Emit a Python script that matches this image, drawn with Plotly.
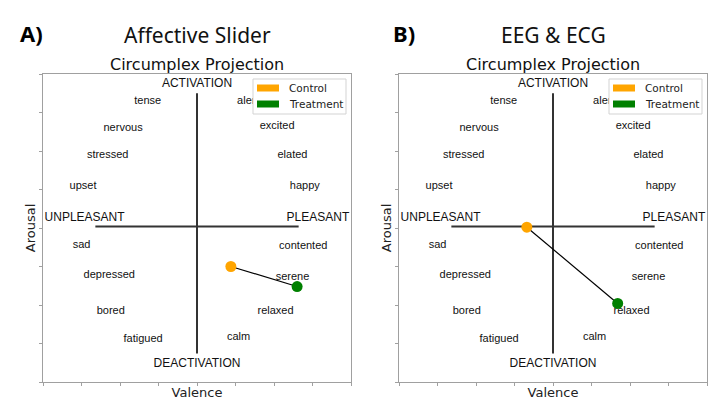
import plotly.graph_objects as go

# ---------------- data ----------------
word_labels = ["tense", "nervous", "stressed", "upset", "sad", "depressed", "bored", "fatigued",
               "alert", "excited", "elated", "happy", "contented", "serene", "relaxed", "calm"]
word_x = [-0.32, -0.48, -0.58, -0.74, -0.75, -0.57, -0.56, -0.35,
          0.33, 0.52, 0.62, 0.70, 0.69, 0.62, 0.51, 0.27]
word_y = [0.82, 0.65, 0.47, 0.27, -0.11, -0.31, -0.54, -0.72,
          0.82, 0.66, 0.47, 0.27, -0.12, -0.32, -0.54, -0.71]

pole_labels = ["ACTIVATION", "DEACTIVATION", "UNPLEASANT", "PLEASANT"]
pole_x = [0.0, 0.0, -0.73, 0.785]
pole_y = [0.935, -0.88, 0.067, 0.067]

hline_x = [-0.66, 0.66]
hline_y = [0.01, 0.01]
vline_x = [0.0, 0.0]
vline_y = [-0.815, 0.875]

groups = ["Control", "Treatment"]
group_colors = ["#FFA500", "#008000"]

panel_letters = ["A)", "B)"]
panel_titles = ["Affective Slider", "EEG & ECG"]
subtitle = "Circumplex Projection"

# valence (x), arousal (y) for Control, Treatment
valence_A = [0.22, 0.65]
arousal_A = [-0.25, -0.38]
valence_B = [-0.17, 0.42]
arousal_B = [0.005, -0.49]

tick_vals = [-1, -0.75, -0.5, -0.25, 0, 0.25, 0.5, 0.75, 1]

# ---------------- figure ----------------
# The page body has an 8px margin, so the figure occupies window pixels 8..720 x 8..410
OFF = 8
W, H = 720 - OFF, 410 - OFF


def px(xp):
    return (xp - OFF) / W


def py(yp):
    return (410 - yp) / H


fig = go.Figure()

panels = [("x", "y", valence_A, arousal_A),
          ("x2", "y2", valence_B, arousal_B)]

word_font = dict(family="Liberation Sans, Arial", size=11, color="#111")
pole_font = dict(family="Liberation Sans, Arial", size=12, color="#111")

for xa, ya, vx, vy in panels:
    fig.add_trace(go.Scatter(x=hline_x, y=hline_y, mode="lines", line=dict(color="#333", width=2),
                             xaxis=xa, yaxis=ya, showlegend=False, hoverinfo="skip"))
    fig.add_trace(go.Scatter(x=vline_x, y=vline_y, mode="lines", line=dict(color="#333", width=2),
                             xaxis=xa, yaxis=ya, showlegend=False, hoverinfo="skip"))
    fig.add_trace(go.Scatter(x=word_x, y=word_y, text=word_labels, mode="text", textfont=word_font,
                             xaxis=xa, yaxis=ya, showlegend=False))
    fig.add_trace(go.Scatter(x=pole_x, y=pole_y, text=pole_labels, mode="text", textfont=pole_font,
                             xaxis=xa, yaxis=ya, showlegend=False))
    fig.add_trace(go.Scatter(x=vx, y=vy, mode="lines", line=dict(color="black", width=1.2),
                             xaxis=xa, yaxis=ya, showlegend=False, hoverinfo="skip"))
    for i, g in enumerate(groups):
        fig.add_trace(go.Scatter(x=[vx[i]], y=[vy[i]], mode="markers", name=g,
                                 marker=dict(color=group_colors[i], size=11, line=dict(width=0)),
                                 xaxis=xa, yaxis=ya, showlegend=False))

ax_common = dict(range=[-1, 1], showgrid=False, zeroline=False, showline=True, mirror=True,
                 linecolor="#a0a0a0", linewidth=1.3, ticks="outside", ticklen=3, tickcolor="#a0a0a0",
                 tickvals=tick_vals, showticklabels=False, fixedrange=True)

ydom = [py(382), py(74)]
title_font = dict(family="DejaVu Sans", size=13, color="#222")
fig.update_layout(
    width=W, height=H, margin=dict(l=0, r=0, t=0, b=0),
    paper_bgcolor="white", plot_bgcolor="white", showlegend=False,
    xaxis=dict(domain=[px(43), px(351)], title=dict(text="Valence", font=title_font, standoff=2), **ax_common),
    yaxis=dict(domain=ydom, title=dict(text="Arousal", font=title_font, standoff=0), **ax_common),
    xaxis2=dict(domain=[px(399), px(707)], anchor="y2", title=dict(text="Valence", font=title_font, standoff=2), **ax_common),
    yaxis2=dict(domain=ydom, anchor="x2", title=dict(text="Arousal", font=title_font, standoff=0), **ax_common),
)

# legend boxes (one per panel)
panel_left = [43, 399]
centers = [197, 553]
letter_x = [31, 404]
legend_font = dict(family="DejaVu Sans", size=10.5, color="#222")
for p in range(2):
    L = panel_left[p] + 210
    fig.add_shape(type="rect", xref="paper", yref="paper",
                  x0=px(L), x1=px(L + 93), y0=py(114), y1=py(79),
                  line=dict(color="#d3d3d3", width=1), fillcolor="white", layer="above")
    for i, g in enumerate(groups):
        cy = 88 + 16 * i
        fig.add_shape(type="rect", xref="paper", yref="paper",
                      x0=px(L + 4), x1=px(L + 26), y0=py(cy + 3.5), y1=py(cy - 3.5),
                      line=dict(width=0), fillcolor=group_colors[i], layer="above")
        fig.add_annotation(text=g, x=px(L + 34), y=py(cy), xref="paper", yref="paper",
                           showarrow=False, xanchor="left", yanchor="middle", font=legend_font)

for i in range(2):
    fig.add_annotation(text="<b>" + panel_letters[i] + "</b>", x=px(letter_x[i]), y=py(33),
                       xref="paper", yref="paper", showarrow=False, xanchor="center", yanchor="middle",
                       font=dict(family="Noto Sans", size=22, color="black"))
    fig.add_annotation(text=panel_titles[i], x=px(centers[i]), y=py(35),
                       xref="paper", yref="paper", showarrow=False, xanchor="center", yanchor="middle",
                       font=dict(family="Noto Sans", size=21, color="#111"))
    fig.add_annotation(text=subtitle, x=px(centers[i]), y=py(65),
                       xref="paper", yref="paper", showarrow=False, xanchor="center", yanchor="middle",
                       font=dict(family="DejaVu Sans", size=16, color="#111"))

fig.write_html("out.html")
